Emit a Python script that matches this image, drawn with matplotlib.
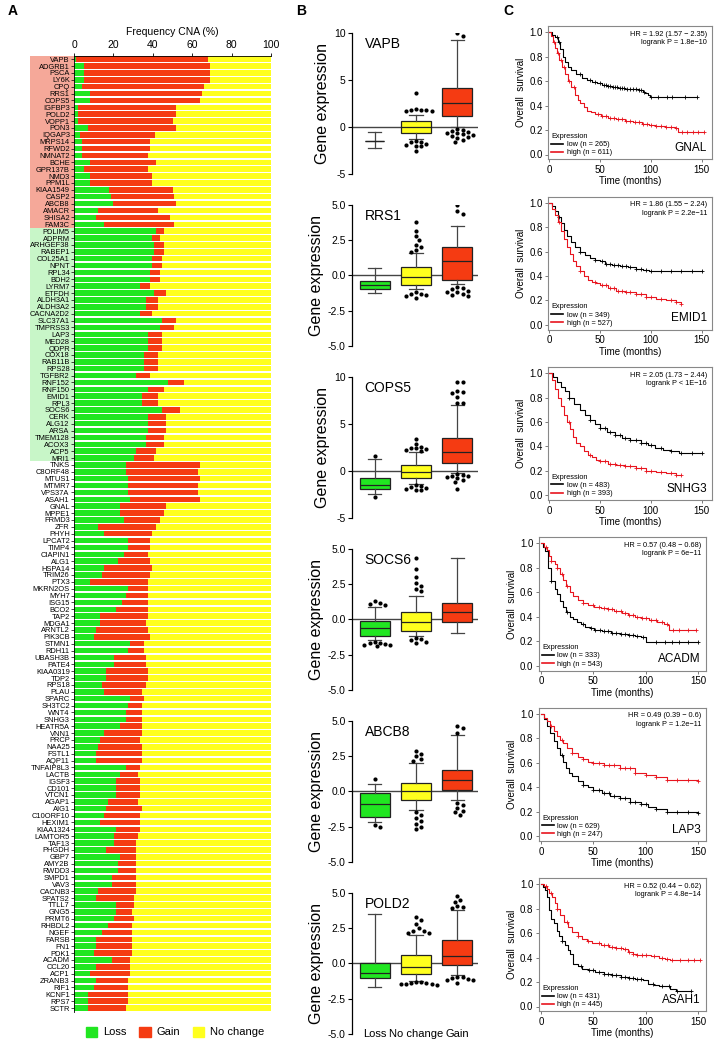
import numpy as np
import matplotlib
matplotlib.use('Agg')
import matplotlib.pyplot as plt
from matplotlib.patches import Rectangle
from matplotlib.lines import Line2D
from matplotlib.transforms import blended_transform_factory

plt.rcParams['font.family'] = ['Liberation Sans', 'DejaVu Sans']
plt.rcParams['axes.unicode_minus'] = False

# ---------------- Panel A data ----------------
genes = ['VAPB', 'ADGRB1', 'PSCA', 'LY6K', 'CPQ', 'RRS1', 'COPS5', 'IGFBP3', 'POLD2', 'VOPP1',
         'PON3', 'IQGAP3', 'MRPS14', 'RFWD2', 'NMNAT2', 'BCHE', 'GPR137B', 'NMD3', 'PPM1L', 'KIAA1549',
         'CASP2', 'ABCB8', 'AMACR', 'SHISA2', 'FAM3C',
         'PDLIM5', 'ADPRM', 'ARHGEF38', 'RABEP1', 'COL25A1', 'NPNT', 'RPL34', 'BDH2', 'LYRM7', 'ETFDH',
         'ALDH3A1', 'ALDH3A2', 'CACNA2D2', 'SLC37A1', 'TMPRSS3', 'LAP3', 'MED28', 'QDPR', 'COX18', 'RAB11B',
         'RPS28', 'TGFBR2', 'RNF152', 'RNF150', 'EMID1', 'RPL3', 'SOCS6', 'CERK', 'ALG12', 'ARSA',
         'TMEM128', 'ACOX3', 'ACP5', 'MRI1',
         'TNKS', 'C8ORF48', 'MTUS1', 'MTMR7', 'VPS37A', 'ASAH1', 'GNAL', 'MPPE1', 'FRMD3', 'ZFR',
         'PHYH', 'LPCAT2', 'TIMP4', 'CIAPIN1', 'ALG1', 'HSPA14', 'TRIM26', 'PTX3', 'MKRN2OS', 'MYH7',
         'ISG15', 'BCO2', 'TAP2', 'MDGA1', 'ARNTL2', 'PIK3CB', 'STMN1', 'RDH11', 'UBASH3B', 'PATE4',
         'KIAA0319', 'TDP2', 'RPS18', 'PLAU', 'SPARC', 'SH3TC2', 'WNT4', 'SNHG3', 'HEATR5A', 'VNN1',
         'PRCP', 'NAA25', 'FSTL1', 'AQP11', 'TNFAIP8L3', 'LACTB', 'IGSF3', 'CD101', 'VTCN1', 'AGAP1',
         'AIG1', 'C10ORF10', 'HEXIM1', 'KIAA1324', 'LAMTOR5', 'TAF13', 'PHGDH', 'GBP7', 'AMY2B', 'RWDD3',
         'SMPD1', 'VAV3', 'CACNB3', 'SPATS2', 'TTLL7', 'GNG5', 'PRMT6', 'RHBDL2', 'NGEF', 'FARSB',
         'FN1', 'PDK1', 'ACADM', 'CCL20', 'ACP1', 'ZRANB3', 'RIF1', 'KCNF1', 'RPS7', 'SCTR']
loss = [1, 5, 5, 5, 4, 8, 8, 2, 2, 2,
        7, 3, 4, 4, 4, 8, 5, 8, 8, 18,
        19, 20, 12, 11, 15,
        41.5, 39.5, 40.5, 40.5, 39.5, 39.5, 38.5, 38.5, 33.4, 40.5,
        36.5, 36.5, 33.4, 44.6, 43.6, 37.5, 37.5, 37.5, 35.5, 35.5,
        35.5, 31.4, 47.6, 37.5, 34.5, 34.5, 44.6, 37.5, 37.5, 37.5,
        36.5, 36.5, 31.4, 30.4,
        26.4, 26.4, 27.4, 27.4, 27.4, 28.4, 23.3, 23.3, 25.3, 12.2,
        15.2, 27.4, 27.4, 25.3, 22.3, 15.2, 14.2, 8.1, 27.4, 26.4,
        24.3, 21.3, 13.2, 13.2, 11.1, 10.1, 28.4, 27.4, 20.3, 20.3,
        16.2, 16.2, 14.2, 15.2, 28.4, 27.4, 26.4, 26.4, 23.3, 15.2,
        13.2, 12.2, 11.1, 11.1, 26.4, 23.3, 21.3, 21.3, 21.3, 17.2,
        16.2, 15.2, 13.2, 21.3, 20.3, 20.3, 16.2, 23.3, 22.3, 22.3,
        19.3, 19.3, 12.2, 11.1, 21.3, 21.3, 20.3, 17.2, 14.2, 11.1,
        11.1, 10.1, 19.3, 11.1, 8.1, 11.1, 10.1, 7.1, 7.1, 7.1]
gain = [67, 64, 64, 64, 62, 57, 56, 50, 50, 48,
        45, 38, 34.5, 34.5, 33.5, 33.5, 32.5, 31.5, 31.5, 32,
        32, 32, 30.5, 37.6, 36,
        4.1, 4.1, 5.1, 5.1, 5.1, 5.1, 5.1, 5.1, 5.1, 6.1,
        6.1, 6.1, 6.1, 7.1, 7.1, 7.1, 7.1, 7.1, 7.1, 7.1,
        7.1, 7.1, 8.1, 8.1, 8.1, 8.1, 9.1, 9.1, 9.1, 9.1,
        9.1, 9.1, 10.2, 10.1,
        37.5, 36.4, 36.5, 35.4, 35.4, 35.5, 23.3, 22.3, 18.3, 29.4,
        24.3, 11.1, 11.1, 12.2, 16.2, 24.3, 24.3, 29.4, 10.1, 11.1,
        13.2, 16.2, 24.3, 23.3, 26.4, 28.4, 7.1, 8.1, 16.2, 16.2,
        21.3, 21.3, 22.3, 19.3, 7.1, 7.1, 8.1, 8.1, 11.2, 19.3,
        20.2, 22.3, 23.4, 23.4, 7.0, 9.1, 12.1, 12.1, 12.1, 15.2,
        18.3, 18.2, 20.2, 12.1, 12.1, 11.1, 15.2, 8.1, 9.1, 9.1,
        12.1, 12.1, 19.2, 19.3, 9.1, 8.1, 10.1, 12.2, 15.2, 18.3,
        18.3, 19.3, 9.1, 17.3, 20.3, 16.3, 17.3, 20.3, 20.3, 19.3]
n_gain_group = 25
n_loss_group = 34

C_LOSS = '#21e621'
C_GAIN = '#f53b12'
C_NC = '#ffff1e'

# ---------------- Panel B data ----------------
box_genes = ['VAPB', 'RRS1', 'COPS5', 'SOCS6', 'ABCB8', 'POLD2']
box_groups = ['Loss', 'No change', 'Gain']
# each: [whislo, q1, med, q3, whishi] for Loss, No change, Gain
box_stats = {
    'VAPB':  [[-2.3, -1.5, -1.5, -1.5, -0.6], [-1.3, -0.65, 0.0, 0.65, 1.3], [0.0, 1.15, 2.6, 4.2, 9.3]],
    'RRS1':  [[-1.25, -1.0, -0.7, -0.4, 0.5], [-1.0, -0.7, -0.1, 0.6, 1.6], [-0.6, -0.3, 1.0, 2.0, 3.5]],
    'COPS5': [[-2.5, -1.9, -1.5, -0.8, 1.25], [-1.4, -0.75, -0.1, 0.65, 2.0], [-0.2, 0.8, 2.0, 3.5, 7.0]],
    'SOCS6': [[-1.5, -1.2, -0.6, -0.1, 0.9], [-1.2, -0.8, -0.2, 0.5, 1.7], [-1.0, -0.2, 0.5, 1.2, 4.4]],
    'ABCB8': [[-2.2, -1.8, -0.9, -0.1, 0.5], [-1.3, -0.6, 0.0, 0.6, 2.0], [-0.6, 0.1, 0.8, 1.5, 4.0]],
    'POLD2': [[-1.65, -1.05, -0.7, 0.0, 3.55], [-1.25, -0.75, -0.25, 0.6, 2.05], [-0.8, -0.1, 0.55, 1.65, 3.8]],
}
box_fliers = {
    'VAPB':  [[], [3.65, 1.95, 1.85, 1.75, 1.7, 1.7, 1.8, -1.5, -1.6, -1.6, -1.8, -1.9, -2.0, -2.1, -2.55],
              [10.0, 9.7, -0.2, -0.3, -0.45, -0.6, -0.7, -0.7, -0.8, -0.9, -1.0, -1.1, -1.2, -1.4, -1.6]],
    'RRS1':  [[], [3.8, 3.2, 2.8, 2.5, 2.2, 2.0, 1.8, 1.7, -1.2, -1.3, -1.4, -1.5, -1.6, -1.3],
              [5.0, 4.6, 4.4, -0.8, -0.9, -1.0, -1.1, -1.2, -1.3, -1.4, -1.5, -1.2]],
    'COPS5': [[1.6, -2.8], [3.4, 2.9, 2.6, 2.4, 2.4, 2.3, 2.2, 2.1, -1.5, -1.6, -1.7, -1.8, -1.9, -2.0, -2.1],
              [9.5, 9.5, 8.5, 8.3, 8.4, 7.9, 7.2, 7.2, -0.3, -0.4, -0.5, -0.6, -0.7, -0.8, -1.0, -1.2, -1.9]],
    'SOCS6': [[1.0, 1.1, 1.3, 1.2, -1.6, -1.7, -1.8, -1.9, -1.75, -1.85, -1.65],
              [4.4, 3.6, 3.0, 2.6, 2.4, 2.2, 2.0, -1.3, -1.4, -1.5, -1.6, -1.7], []],
    'ABCB8': [[0.9, -2.4, -2.5], [2.9, 2.7, 2.5, 2.3, 2.2, -1.5, -1.7, -1.9, -2.1, -2.3, -2.5, -2.7],
              [4.7, 4.5, 4.2, -0.8, -1.0, -1.2, -1.4, -1.5, -1.7]],
    'POLD2': [[], [3.3, 3.1, 2.8, 2.5, 2.3, 2.3, 2.2, 2.2, -1.3, -1.35, -1.4, -1.45, -1.5, -1.5, -1.55, -1.4],
              [4.8, 4.5, 4.4, 4.1, 4.0, 3.95, -0.95, -1.0, -1.05, -1.1, -1.15, -1.2, -1.4]],
}
box_ylims = {'VAPB': (-5, 10), 'RRS1': (-5, 5), 'COPS5': (-5, 10), 'SOCS6': (-5, 5), 'ABCB8': (-5, 5), 'POLD2': (-5, 5)}

# ---------------- Panel C data ----------------
km_genes = ['GNAL', 'EMID1', 'SNHG3', 'ACADM', 'LAP3', 'ASAH1']
km_hr = ['HR = 1.92 (1.57 \u2212 2.35)\nlogrank P = 1.8e\u221210',
         'HR = 1.86 (1.55 \u2212 2.24)\nlogrank P = 2.2e\u221211',
         'HR = 2.05 (1.73 \u2212 2.44)\nlogrank P < 1E\u221216',
         'HR = 0.57 (0.48 \u2212 0.68)\nlogrank P = 6e\u221211',
         'HR = 0.49 (0.39 \u2212 0.6)\nlogrank P = 1.2e\u221211',
         'HR = 0.52 (0.44 \u2212 0.62)\nlogrank P = 4.8e\u221214']
km_n_low = [265, 349, 483, 333, 629, 431]
km_n_high = [611, 527, 393, 543, 247, 445]

km_low_t = [
    [0, 3, 6, 9, 11, 14, 16, 19, 22, 27, 32, 37, 42, 47, 52, 57, 62, 68, 75, 82, 88, 92, 94, 97, 99, 145],
    [0, 3, 6, 9, 12, 15, 18, 22, 26, 30, 35, 40, 45, 50, 55, 62, 70, 78, 85, 92, 98, 104, 150],
    [0, 4, 8, 12, 16, 20, 25, 30, 35, 40, 45, 50, 57, 65, 72, 80, 90, 97, 104, 112, 120, 128, 150],
    [0, 2, 4, 7, 10, 13, 15, 18, 21, 24, 27.5, 31, 34, 38, 42, 47, 51, 58, 67, 75, 83, 90, 95.5, 100, 150],
    [0, 3, 6, 9, 12, 15, 18, 21, 24, 27, 30, 35, 40, 45, 50, 58, 66, 75, 85, 95, 102, 110, 120, 150],
    [0, 2, 4, 6, 7.4, 10, 12, 15, 17, 20, 23, 26, 28, 31, 35, 39, 45, 52, 60, 68, 76, 84, 90, 97, 102, 108, 113, 123, 129, 143],
]
km_low_s = [
    [1.0, 0.98, 0.96, 0.92, 0.86, 0.8, 0.76, 0.72, 0.69, 0.66, 0.63, 0.61, 0.595, 0.585, 0.57, 0.56, 0.55, 0.545, 0.54, 0.535, 0.527, 0.515, 0.505, 0.49, 0.47, 0.47],
    [1.0, 0.97, 0.93, 0.88, 0.83, 0.78, 0.73, 0.68, 0.64, 0.6, 0.57, 0.55, 0.53, 0.52, 0.5, 0.49, 0.48, 0.47, 0.46, 0.45, 0.445, 0.44, 0.44],
    [1.0, 0.97, 0.93, 0.89, 0.85, 0.8, 0.75, 0.7, 0.66, 0.62, 0.58, 0.55, 0.52, 0.49, 0.47, 0.45, 0.43, 0.41, 0.39, 0.37, 0.36, 0.35, 0.35],
    [1.0, 0.97, 0.94, 0.8, 0.69, 0.63, 0.59, 0.53, 0.48, 0.44, 0.4, 0.38, 0.36, 0.34, 0.32, 0.305, 0.29, 0.28, 0.27, 0.26, 0.25, 0.245, 0.237, 0.196, 0.196],
    [1.0, 0.96, 0.9, 0.84, 0.78, 0.72, 0.66, 0.61, 0.56, 0.52, 0.49, 0.45, 0.42, 0.4, 0.38, 0.35, 0.33, 0.31, 0.28, 0.26, 0.24, 0.22, 0.2, 0.19],
    [1.0, 0.98, 0.95, 0.9, 0.79, 0.72, 0.68, 0.62, 0.58, 0.54, 0.5, 0.46, 0.43, 0.35, 0.33, 0.31, 0.295, 0.28, 0.265, 0.254, 0.245, 0.232, 0.225, 0.219, 0.186, 0.175, 0.164, 0.145, 0.13, 0.13],
]
km_high_t = [
    [0, 2, 4, 6, 7.5, 10, 12.5, 16, 19, 22, 25.5, 28, 30.5, 34, 37, 41, 45, 51, 58, 66, 75, 83, 91, 98, 104, 114, 124, 127, 152],
    [0, 3, 6, 9, 12, 15, 18, 21, 24, 27, 30, 34, 38, 42, 46, 50, 58, 66, 75, 85, 95, 105, 115, 125, 130],
    [0, 3, 6, 9, 12, 15, 18, 21, 24, 27, 30, 34, 38, 42, 46, 50, 58, 66, 75, 85, 95, 105, 115, 125, 130],
    [0, 3, 5.4, 8, 10, 13, 15, 18, 21, 24, 27.5, 31, 35, 40, 45, 51, 57.6, 64, 70, 77, 83, 90, 95.5, 103, 111, 117, 121, 122.5, 148],
    [0, 3, 6, 9, 12, 15, 18, 21, 25, 30, 35, 40, 45, 50, 60, 75, 90, 100, 110, 120, 150],
    [0, 3, 5.8, 8, 10.6, 13, 15, 18, 22, 26, 30, 35, 39, 44, 49, 57, 65, 72, 78, 83, 87.5, 92, 97, 105, 113, 118, 123, 152],
]
km_high_s = [
    [1.0, 0.97, 0.92, 0.87, 0.83, 0.77, 0.72, 0.66, 0.6, 0.55, 0.49, 0.45, 0.42, 0.39, 0.36, 0.345, 0.33, 0.315, 0.3, 0.29, 0.276, 0.262, 0.25, 0.24, 0.232, 0.222, 0.213, 0.186, 0.186],
    [1.0, 0.95, 0.9, 0.84, 0.77, 0.7, 0.64, 0.58, 0.52, 0.48, 0.44, 0.4, 0.37, 0.35, 0.34, 0.33, 0.3, 0.28, 0.27, 0.25, 0.23, 0.21, 0.2, 0.19, 0.17],
    [1.0, 0.94, 0.87, 0.8, 0.73, 0.66, 0.6, 0.54, 0.48, 0.43, 0.4, 0.36, 0.33, 0.31, 0.29, 0.28, 0.26, 0.25, 0.24, 0.22, 0.2, 0.19, 0.18, 0.17, 0.17],
    [1.0, 0.975, 0.945, 0.9, 0.86, 0.83, 0.8, 0.75, 0.7, 0.65, 0.605, 0.57, 0.537, 0.515, 0.496, 0.48, 0.469, 0.46, 0.45, 0.43, 0.414, 0.4, 0.387, 0.372, 0.36, 0.345, 0.33, 0.29, 0.29],
    [1.0, 0.97, 0.94, 0.9, 0.86, 0.82, 0.79, 0.76, 0.72, 0.68, 0.65, 0.63, 0.61, 0.6, 0.58, 0.56, 0.52, 0.5, 0.48, 0.46, 0.45],
    [1.0, 0.985, 0.965, 0.93, 0.896, 0.85, 0.8, 0.75, 0.69, 0.65, 0.61, 0.58, 0.555, 0.535, 0.52, 0.505, 0.49, 0.48, 0.47, 0.45, 0.43, 0.425, 0.42, 0.41, 0.4, 0.39, 0.377, 0.377],
]
km_low_cens = [
    [8, 10, 30, 40, 45, 50, 54, 56, 58, 60, 63, 65, 67, 70, 72, 74, 77, 80, 83, 85, 88, 90, 93, 100, 107, 116, 121, 134, 145],
    [10, 30, 45, 52, 56, 60, 64, 68, 72, 76, 80, 85, 90, 95, 100, 110, 120, 130, 140, 150],
    [20, 40, 50, 55, 60, 65, 70, 75, 80, 85, 90, 95, 100, 110, 120, 130, 140, 150],
    [10, 25, 40, 48, 52, 56, 60, 64, 68, 72, 76, 80, 84, 88, 92, 97, 110, 118, 125, 132, 140, 150],
    [20, 40, 50, 55, 60, 65, 70, 75, 80, 85, 90, 95, 100, 110, 120, 130, 140, 150],
    [20, 38, 46, 50, 55, 60, 64, 68, 72, 76, 80, 84, 88, 92, 95, 107, 115, 122, 130, 143],
]
km_high_cens = [
    [5, 9, 12, 15, 20, 25, 48, 52, 56, 60, 64, 68, 72, 76, 80, 84, 88, 92, 96, 100, 105, 110, 115, 120, 125, 131, 136, 141, 146, 152],
    [10, 30, 45, 52, 56, 60, 64, 68, 72, 76, 80, 85, 90, 95, 100, 110, 120, 125, 130],
    [20, 40, 50, 55, 60, 65, 70, 75, 80, 85, 90, 95, 100, 110, 120, 125, 130],
    [5, 10, 15, 20, 25, 40, 50, 55, 60, 64, 68, 72, 76, 80, 84, 88, 92, 96, 100, 105, 110, 115, 120, 126, 132, 140, 148],
    [10, 20, 30, 40, 50, 55, 60, 65, 70, 75, 80, 85, 90, 100, 110, 120, 130, 140, 150],
    [5, 10, 15, 25, 35, 45, 55, 60, 64, 68, 72, 76, 80, 84, 88, 92, 96, 100, 108, 115, 120, 125, 133, 140, 146, 152],
]

# ---------------- Figure ----------------
W, H = 714, 1042
fig = plt.figure(figsize=(W / 100, H / 100), dpi=100)


def axpx(l, t, r, b):
    return fig.add_axes([l / W, 1 - b / H, (r - l) / W, (b - t) / H])


# ---------- Panel A ----------
n = len(genes)
axA = axpx(74, 55.8, 271, 1011.5)
y = np.arange(n)
loss_a = np.array(loss)
gain_a = np.array(gain)
nc_a = 100 - loss_a - gain_a
axA.barh(y, loss_a, height=0.8, color=C_LOSS, lw=0)
axA.barh(y, gain_a, left=loss_a, height=0.8, color=C_GAIN, lw=0)
axA.barh(y, nc_a, left=loss_a + gain_a, height=0.8, color=C_NC, lw=0)
axA.set_ylim(n - 0.5, -0.5)
axA.set_xlim(0, 100)
axA.set_yticks(y)
axA.set_yticklabels(genes, fontsize=5.4)
axA.xaxis.tick_top()
axA.xaxis.set_label_position('top')
axA.set_xticks([0, 20, 40, 60, 80, 100])
axA.tick_params(axis='x', labelsize=7.5, length=2.5, pad=1.5, width=0.6)
axA.tick_params(axis='y', length=2, pad=1, width=0.5)
axA.set_xlabel('Frequency CNA (%)', fontsize=7.5, labelpad=4)
for s in ['right', 'bottom']:
    axA.spines[s].set_visible(False)
for s in ['left', 'top']:
    axA.spines[s].set_linewidth(0.6)
tr = blended_transform_factory(axA.transAxes, axA.transData)
axA.add_patch(Rectangle((-0.223, -0.5), 0.223, n_gain_group, transform=tr, clip_on=False,
                        facecolor='#f5a899', edgecolor='none', zorder=-1))
axA.add_patch(Rectangle((-0.223, n_gain_group - 0.5), 0.223, n_loss_group, transform=tr, clip_on=False,
                        facecolor='#c8f6c8', edgecolor='none', zorder=-1))

# legend A
legA = fig.legend(handles=[Rectangle((0, 0), 1, 1, color=C_LOSS), Rectangle((0, 0), 1, 1, color=C_GAIN),
                           Rectangle((0, 0), 1, 1, color=C_NC)],
                  labels=['Loss', 'Gain', 'No change'], loc='center', bbox_to_anchor=(175 / W, 1 - 1032 / H),
                  ncol=3, frameon=False, fontsize=8, handlelength=1.0, handleheight=1.0, columnspacing=1.2,
                  handletextpad=0.5)

# ---------- Panel B ----------
box_colors = [C_LOSS, C_NC, C_GAIN]
xl, xr = 352, 478
xlim_b = (0.45, 3.5)
xppu = (xr - xl) / (xlim_b[1] - xlim_b[0])


def swarm_offsets(vals, yppu, d=4.3):
    order = np.argsort(vals)[::-1]
    placed = []
    offs = np.zeros(len(vals))
    step = d * 0.6
    for i in order:
        yp = vals[i] * yppu
        cands = [0]
        for j in range(1, 12):
            cands += [j * step, -j * step]
        for c in cands:
            ok = True
            for (px, py) in placed:
                if (px - c) ** 2 + (py - yp) ** 2 < d * d:
                    ok = False
                    break
            if ok:
                offs[i] = c
                placed.append((c, yp))
                break
    return offs


for k, g in enumerate(box_genes):
    top = 33.3 + 172 * k
    bot = top + 140.3
    ax = axpx(xl, top, xr, bot)
    lo, hi = box_ylims[g]
    yppu = (bot - top) / (hi - lo)
    stats = []
    for j in range(3):
        wl, q1, md, q3, wh = box_stats[g][j]
        stats.append(dict(med=md, q1=q1, q3=q3, whislo=wl, whishi=wh, fliers=[]))
    widths = [0.45 if (box_stats[g][0][1] == box_stats[g][0][3]) and j == 0 else 0.72 for j in range(3)]
    ax.axhline(0, color='#444444', lw=1.0, zorder=1)
    bp = ax.bxp(stats, positions=[1, 2, 3], widths=widths, patch_artist=True, showfliers=False,
                boxprops=dict(edgecolor='#222222', lw=0.9), medianprops=dict(color='#222222', lw=0.9),
                whiskerprops=dict(color='#444444', lw=0.9), capprops=dict(color='#444444', lw=0.9),
                capwidths=0.32, zorder=2)
    for patch, c in zip(bp['boxes'], box_colors):
        patch.set_facecolor(c)
    for j in range(3):
        fl = np.array(box_fliers[g][j], dtype=float)
        if len(fl):
            offs = swarm_offsets(fl, yppu)
            ax.scatter(j + 1 + offs / xppu, fl, s=9, color='black', zorder=3, lw=0)
    ax.set_xlim(*xlim_b)
    ax.set_ylim(lo, hi)
    if hi == 10:
        ax.set_yticks([-5, 0, 5, 10])
        ax.set_yticklabels(['-5', '0', '5', '10'])
    else:
        ax.set_yticks([-5, -2.5, 0, 2.5, 5])
        ax.set_yticklabels(['-5.0', '-2.5', '0.0', '2.5', '5.0'])
    ax.tick_params(axis='y', labelsize=7.5, length=3, width=0.8, pad=1.5)
    for s in ['top', 'right', 'bottom']:
        ax.spines[s].set_visible(False)
    ax.spines['left'].set_linewidth(0.9)
    ax.set_xticks([])
    if k == len(box_genes) - 1:
        for j, lab in enumerate(box_groups):
            ax.text(j + 1, lo - 0.05, lab, ha='center', va='center', fontsize=8, clip_on=False)
    ax.set_ylabel('Gene expression', fontsize=11.5, labelpad=3)
    ax.text(0.1, 0.975, g, transform=ax.transAxes, fontsize=10, va='top', ha='left')

# ---------- Panel C ----------
for k, g in enumerate(km_genes):
    y1 = 32.3 + 170.4 * k
    y0 = 154.5 + 170.4 * k
    yp = y0 - y1
    if k < 3:
        x0, xpp, left, right = 549.0, 1.018, 548.3, 712.0
    else:
        x0, xpp, left, right = 541.0, 1.048, 539.0, 706.0
    ax = axpx(left, y1 - 0.05 * yp, right, y0 + 0.04 * yp)
    for tt, ss, cens, col in [(km_low_t[k], km_low_s[k], km_low_cens[k], 'black'),
                              (km_high_t[k], km_high_s[k], km_high_cens[k], '#e8141e')]:
        tt = np.array(tt, float)
        ss = np.array(ss, float)
        ax.plot(tt, ss, drawstyle='steps-post', color=col, lw=0.8)
        ct = np.array(cens, float)
        ct = ct[ct <= tt[-1]]
        idx = np.searchsorted(tt, ct, side='right') - 1
        ax.plot(ct, ss[idx], ls='none', marker='+', ms=3, mew=0.6, color=col)
    ax.set_xlim((left - x0) / xpp, (right - x0) / xpp)
    ax.set_ylim(-0.04, 1.05)
    ax.set_xticks([0, 50, 100, 150])
    ax.set_yticks([0, 0.2, 0.4, 0.6, 0.8, 1.0])
    ax.set_yticklabels(['0.0', '0.2', '0.4', '0.6', '0.8', '1.0'])
    ax.tick_params(labelsize=7, length=2.5, width=0.6, pad=1.5, color='#666666')
    for s in ax.spines.values():
        s.set_color('#888888')
        s.set_linewidth(0.8)
    ax.set_xlabel('Time (months)', fontsize=7, labelpad=1)
    ax.set_ylabel('Overall  survival', fontsize=7, labelpad=2)
    ax.text(0.97, 0.965, km_hr[k], transform=ax.transAxes, ha='right', va='top', fontsize=5.3,
            linespacing=1.25)
    ax.text(0.97, 0.04, g, transform=ax.transAxes, ha='right', va='bottom', fontsize=8.5)
    leg = ax.legend(handles=[Line2D([], [], color='black', lw=1.2), Line2D([], [], color='#e8141e', lw=1.2)],
                    labels=['low (n = %d)' % km_n_low[k], 'high (n = %d)' % km_n_high[k]],
                    title='Expression', loc='lower left', frameon=False, fontsize=5.3, title_fontsize=5.3,
                    handlelength=1.6, handletextpad=0.5, borderaxespad=0.2, borderpad=0.2, labelspacing=0.15)
    leg._legend_box.align = 'left'

# panel letters
fig.text(8 / W, 1 - 11 / H, 'A', fontsize=10, fontweight='bold', va='center', ha='left')
fig.text(296 / W, 1 - 11 / H, 'B', fontsize=10, fontweight='bold', va='center', ha='left')
fig.text(503 / W, 1 - 11 / H, 'C', fontsize=10, fontweight='bold', va='center', ha='left')

fig.savefig('out.png', dpi=100)
